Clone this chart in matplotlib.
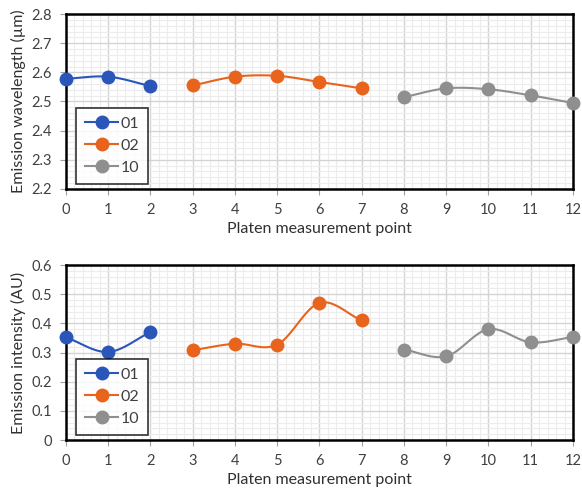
import numpy as np
import matplotlib.pyplot as plt
from matplotlib.ticker import MultipleLocator

plt.rcParams['font.family'] = ['Lato', 'DejaVu Sans']

# données
x_01 = [0, 1, 2]
x_02 = [3, 4, 5, 6, 7]
x_10 = [8, 9, 10, 11, 12]

wl_01 = [2.578, 2.585, 2.553]
wl_02 = [2.555, 2.585, 2.588, 2.567, 2.545]
wl_10 = [2.515, 2.545, 2.542, 2.521, 2.495]

int_01 = [0.352, 0.302, 0.370]
int_02 = [0.308, 0.330, 0.327, 0.470, 0.410]
int_10 = [0.310, 0.287, 0.380, 0.335, 0.353]

labels = ['01', '02', '10']
colors = ['#2b56b9', '#e8641c', '#8f8f8f']


def smooth(x, y, n=20):
    # lissage type Excel (Catmull-Rom) pour le tracé de la ligne
    x = np.asarray(x, float)
    y = np.asarray(y, float)
    if len(x) < 3:
        return x, y
    px = np.concatenate([[2 * x[0] - x[1]], x, [2 * x[-1] - x[-2]]])
    py = np.concatenate([[2 * y[0] - y[1]], y, [2 * y[-1] - y[-2]]])
    xs, ys = [], []
    t = np.linspace(0, 1, n)
    for i in range(1, len(px) - 2):
        for p, out in ((px, xs), (py, ys)):
            p0, p1, p2, p3 = p[i - 1], p[i], p[i + 1], p[i + 2]
            out.append(0.5 * (2 * p1 + (-p0 + p2) * t
                              + (2 * p0 - 5 * p1 + 4 * p2 - p3) * t ** 2
                              + (-p0 + 3 * p1 - 3 * p2 + p3) * t ** 3))
    return np.concatenate(xs), np.concatenate(ys)


def draw(ax, series, ylim, ystep, ylabel, fmt):
    for (x, y), lab, c in zip(series, labels, colors):
        sx, sy = smooth(x, y)
        ax.plot(sx, sy, color=c, lw=1.5, zorder=3, clip_on=False)
        ax.plot(x, y, 'o', color=c, ms=9, zorder=4, clip_on=False)
        ax.plot([], [], '-o', color=c, lw=1.5, ms=9, label=lab)
    ax.set_xlim(0, 12)
    ax.set_ylim(*ylim)
    ax.xaxis.set_major_locator(MultipleLocator(1))
    ax.xaxis.set_minor_locator(MultipleLocator(0.2))
    ax.yaxis.set_major_locator(MultipleLocator(ystep))
    ax.yaxis.set_minor_locator(MultipleLocator(ystep / 5))
    ax.grid(True, which='major', color='#d4d4d4', lw=1.0)
    ax.grid(True, which='minor', color='#ececec', lw=0.8)
    ax.set_axisbelow(True)
    for s in ax.spines.values():
        s.set_color('black')
        s.set_linewidth(1.8)
        s.set_zorder(2.5)
    ax.tick_params(which='major', length=4, color='#a0a0a0', labelsize=10.5,
                   labelcolor='#404040', pad=6)
    ax.tick_params(which='minor', length=0)
    ax.yaxis.set_major_formatter(fmt)
    ax.set_xlabel('Platen measurement point', fontsize=11.5, color='#303030')
    ax.set_ylabel(ylabel, fontsize=11.5, color='#303030')
    leg = ax.legend(loc='lower left', bbox_to_anchor=(0.02, 0.03), fontsize=11.5,
                    frameon=True, fancybox=False, handlelength=2.1,
                    handletextpad=0.15, labelspacing=0.5, borderpad=0.55,
                    borderaxespad=0)
    leg.get_frame().set_edgecolor('black')
    leg.get_frame().set_linewidth(1.2)
    leg.set_zorder(5)
    for t in leg.get_texts():
        t.set_color('#404040')


fig = plt.figure(figsize=(5.82, 4.95), dpi=100)
ax1 = fig.add_axes([0.1134, 0.6182, 0.8711, 0.3535])
ax2 = fig.add_axes([0.1134, 0.1111, 0.8711, 0.3535])

draw(ax1, [(x_01, wl_01), (x_02, wl_02), (x_10, wl_10)], (2.2, 2.8), 0.1,
     'Emission wavelength (µm)', plt.FormatStrFormatter('%.1f'))
draw(ax2, [(x_01, int_01), (x_02, int_02), (x_10, int_10)], (0, 0.6), 0.1,
     'Emission intensity (AU)',
     plt.FuncFormatter(lambda v, p: '0' if abs(v) < 1e-9 else f'{v:.1f}'))

fig.savefig('out.png', dpi=100)
